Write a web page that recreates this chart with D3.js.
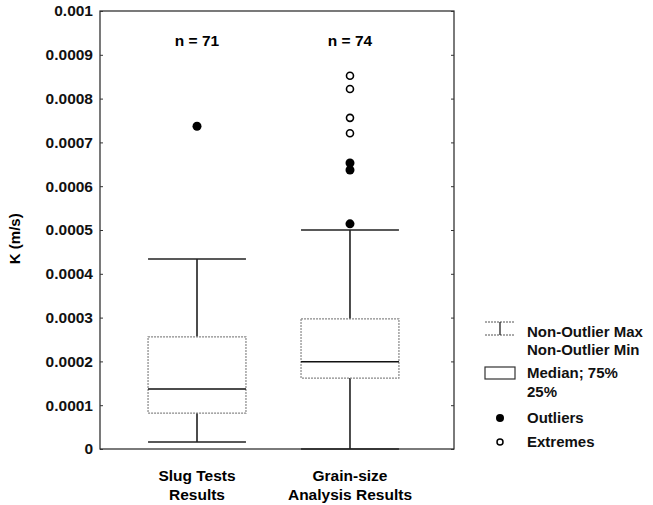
<!DOCTYPE html>
<html>
<head>
<meta charset="utf-8">
<script src="https://cdn.jsdelivr.net/npm/d3@7"></script>
<style>
  body { margin: 0; background: #fff; }
  svg { font-family: "Liberation Sans", Arial, sans-serif; }
</style>
</head>
<body>
<div id="chart"></div>
<script>
// data
const groups = ["Slug Tests|Results", "Grain-size|Analysis Results"];
const counts = [71, 74];
const whiskerMax = [0.000434, 0.000500];
const q3 = [0.000256, 0.000297];
const medians = [0.000137, 0.000199];
const q1 = [0.000082, 0.000162];
const whiskerMin = [0.000016, 0.0];
const outliers = [[0.000737], [0.000514, 0.000637, 0.000653]];
const extremes = [[], [0.000852, 0.000822, 0.000756, 0.000721]];
const yTicks = [0, 0.0001, 0.0002, 0.0003, 0.0004, 0.0005, 0.0006, 0.0007, 0.0008, 0.0009, 0.001];

const W = 653, H = 505;
const margin = { top: 11, right: 199, bottom: 56, left: 100 };
const width = W - margin.left - margin.right;
const height = H - margin.top - margin.bottom;

const svg = d3.select("#chart").append("svg")
    .attr("width", W)
    .attr("height", H);

const g = svg.append("g")
    .attr("transform", `translate(${margin.left}, ${margin.top})`);

const x = d3.scaleBand()
    .domain(groups)
    .range([0, width])
    .paddingInner(0.36)
    .paddingOuter(0.337)
    .align(0.466);

const y = d3.scaleLinear()
    .domain([0, 0.001])
    .range([height, 0]);

// frame
g.append("rect")
    .attr("width", width).attr("height", height)
    .attr("fill", "none").attr("stroke", "#222").attr("stroke-width", 1.2);

// left axis
const yAxis = g.append("g")
    .call(d3.axisLeft(y).tickValues(yTicks).tickSize(-3).tickFormat(d => d === 0 ? "0" : d3.format("")(+d.toFixed(4))));
yAxis.select(".domain").remove();
yAxis.selectAll("text")
    .attr("x", -7)
    .style("font-size", "15.5px").style("font-weight", "bold").attr("fill", "#111");
yAxis.selectAll("line").attr("stroke", "#333");

// right inner ticks
const rAxis = g.append("g")
    .attr("transform", `translate(${width},0)`)
    .call(d3.axisRight(y).tickValues(yTicks).tickSize(-3).tickFormat(""));
rAxis.select(".domain").remove();
rAxis.selectAll("line").attr("stroke", "#333");

// y label
g.append("text")
    .text("K (m/s)")
    .attr("transform", `translate(${-80}, ${y(0.00048)}) rotate(-90)`)
    .style("text-anchor", "middle")
    .style("font-size", "15px").style("font-weight", "bold");

// x labels
groups.forEach((grp, i) => {
    const cx = x(grp) + x.bandwidth() / 2;
    grp.split("|").forEach((line, j) => {
        g.append("text")
            .text(line)
            .attr("x", cx).attr("y", height + 32 + j * 19)
            .style("text-anchor", "middle")
            .style("font-size", "15.5px").style("font-weight", "bold");
    });
    g.append("text")
        .text("n = " + counts[i])
        .attr("x", cx).attr("y", 35)
        .style("text-anchor", "middle")
        .style("font-size", "15.5px").style("font-weight", "bold");
});

// boxes
groups.forEach((grp, i) => {
    const x0 = x(grp), bw = x.bandwidth(), cx = x0 + bw / 2;
    // whiskers
    g.append("line").attr("x1", cx).attr("x2", cx)
        .attr("y1", y(whiskerMax[i])).attr("y2", y(q3[i]))
        .attr("stroke", "#111").attr("stroke-width", 1.5);
    g.append("line").attr("x1", cx).attr("x2", cx)
        .attr("y1", y(q1[i])).attr("y2", y(whiskerMin[i]))
        .attr("stroke", "#111").attr("stroke-width", 1.5);
    [whiskerMax[i], whiskerMin[i]].forEach(v => {
        g.append("line").attr("x1", x0).attr("x2", x0 + bw)
            .attr("y1", y(v)).attr("y2", y(v))
            .attr("stroke", "#222").attr("stroke-width", 1.5);
    });
    // box
    g.append("rect")
        .attr("x", x0).attr("y", y(q3[i]))
        .attr("width", bw).attr("height", y(q1[i]) - y(q3[i]))
        .attr("fill", "none").attr("stroke", "#888").attr("stroke-width", 1.2)
        .attr("stroke-dasharray", "2,1");
    g.append("line").attr("x1", x0).attr("x2", x0 + bw)
        .attr("y1", y(medians[i])).attr("y2", y(medians[i]))
        .attr("stroke", "#111").attr("stroke-width", 1.5);
    // points
    outliers[i].forEach(v => {
        g.append("circle").attr("cx", cx).attr("cy", y(v)).attr("r", 4.5).attr("fill", "#000");
    });
    extremes[i].forEach(v => {
        g.append("circle").attr("cx", cx).attr("cy", y(v)).attr("r", 3.5)
            .attr("fill", "#fff").attr("stroke", "#000").attr("stroke-width", 1.6);
    });
});

// legend
const lg = svg.append("g").attr("transform", "translate(485, 322)");
const lx = 42;
lg.append("line").attr("x1", 0).attr("x2", 30).attr("y1", 0).attr("y2", 0).attr("stroke", "#555").attr("stroke-dasharray", "2,1");
lg.append("line").attr("x1", 0).attr("x2", 30).attr("y1", 13).attr("y2", 13).attr("stroke", "#555").attr("stroke-dasharray", "2,1");
lg.append("line").attr("x1", 15).attr("x2", 15).attr("y1", 0).attr("y2", 13).attr("stroke", "#222").attr("stroke-width", 1.3);
lg.append("rect").attr("x", 0).attr("y", 45).attr("width", 30).attr("height", 12)
    .attr("fill", "none").attr("stroke", "#333").attr("stroke-width", 1.2);
lg.append("circle").attr("cx", 15).attr("cy", 96).attr("r", 4).attr("fill", "#000");
lg.append("circle").attr("cx", 15).attr("cy", 120).attr("r", 3).attr("fill", "#fff").attr("stroke", "#000").attr("stroke-width", 1.5);

const legendLines = [
    ["Non-Outlier Max", 10],
    ["Non-Outlier Min", 28],
    ["Median; 75%", 51],
    ["25%", 70],
    ["Outliers", 96],
    ["Extremes", 120]
];
legendLines.forEach(([t, ly]) => {
    lg.append("text").text(t)
        .attr("x", lx).attr("y", ly).attr("dy", "0.35em")
        .style("font-size", "15px").style("font-weight", "bold").attr("fill", "#111");
});
</script>
</body>
</html>
